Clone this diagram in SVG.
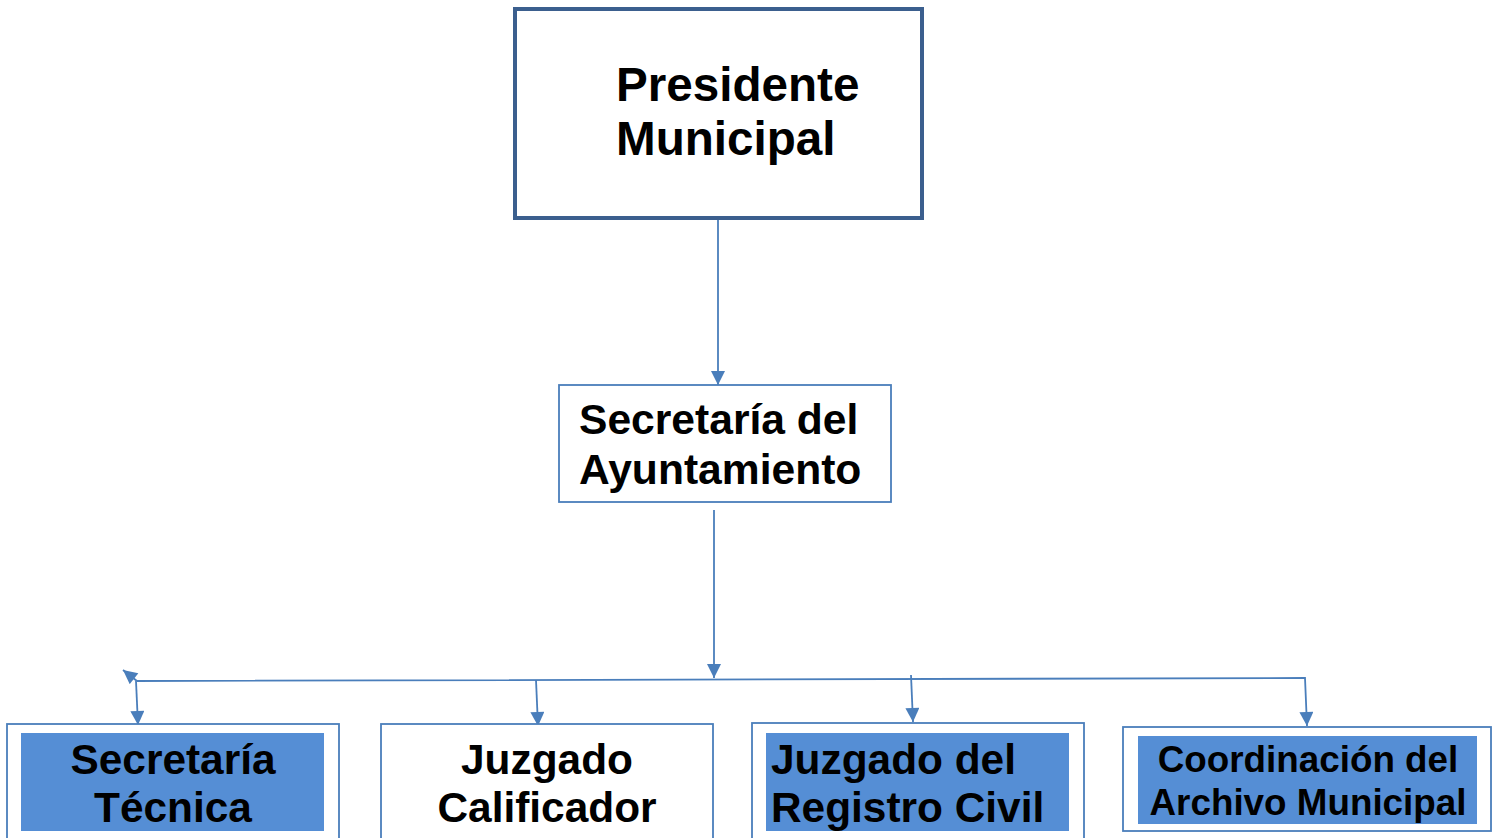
<svg xmlns="http://www.w3.org/2000/svg" width="1500" height="838" viewBox="0 0 1500 838">
<style>
.box{fill:#fff;stroke:#4a7ebb;stroke-width:1.8}
.fill{fill:#558ed5}
.t{font-family:"Liberation Sans",Arial,sans-serif;font-weight:bold;fill:#000}
.c{fill:none;stroke:#4a7ebb;stroke-width:1.8}
</style>
<defs>
<marker id="ah2" viewBox="0 0 10 10" refX="10" refY="5" markerWidth="15" markerHeight="14" markerUnits="userSpaceOnUse" orient="auto">
<path d="M0,0 L10,5 L0,10 z" fill="#4a7ebb"/>
</marker>
</defs>
<rect width="1500" height="838" fill="#fff"/>
<g id="connectors">
<line class="c" x1="718" y1="219" x2="718" y2="385" marker-end="url(#ah2)"/>
<line class="c" x1="714" y1="510" x2="714" y2="678" marker-end="url(#ah2)"/>
<polyline class="c" points="137,681 1305,678 1307,726" marker-end="url(#ah2)"/>
<line class="c" x1="137" y1="681" x2="123" y2="670" marker-end="url(#ah2)"/>
<line class="c" x1="136" y1="681" x2="138" y2="725" marker-end="url(#ah2)"/>
<line class="c" x1="536" y1="680" x2="538" y2="726" marker-end="url(#ah2)"/>
<line class="c" x1="911" y1="675" x2="913" y2="722" marker-end="url(#ah2)"/>
</g>
<g id="presidente">
<rect x="515" y="9" width="407" height="209" fill="#fff" stroke="#3b5f8e" stroke-width="4"/>
<text class="t" x="616" y="101" font-size="47.6">Presidente</text>
<text class="t" x="616" y="155" font-size="47.6">Municipal</text>
</g>
<g id="secretaria-ayuntamiento">
<rect class="box" x="559" y="385" width="332" height="117"/>
<text class="t" x="579" y="434" font-size="42.6">Secretaría del</text>
<text class="t" x="579" y="484" font-size="42.6">Ayuntamiento</text>
</g>
<g id="secretaria-tecnica">
<rect class="box" x="7" y="724" width="332" height="130"/>
<rect class="fill" x="21" y="733" width="303" height="98"/>
<text class="t" x="173" y="774" font-size="42.4" text-anchor="middle">Secretaría</text>
<text class="t" x="173" y="822" font-size="42.4" text-anchor="middle">Técnica</text>
</g>
<g id="juzgado-calificador">
<rect class="box" x="381" y="724" width="332" height="130"/>
<text class="t" x="547" y="774" font-size="42.4" text-anchor="middle">Juzgado</text>
<text class="t" x="547" y="822" font-size="42.4" text-anchor="middle">Calificador</text>
</g>
<g id="registro-civil">
<rect class="box" x="752" y="723" width="332" height="130"/>
<rect class="fill" x="766" y="733" width="303" height="98"/>
<text class="t" x="771" y="774" font-size="42.4">Juzgado del</text>
<text class="t" x="771" y="822" font-size="42.4">Registro Civil</text>
</g>
<g id="archivo-municipal">
<rect class="box" x="1123" y="727" width="368" height="104"/>
<rect class="fill" x="1138" y="736" width="339" height="88"/>
<text class="t" x="1308" y="772" font-size="36.8" text-anchor="middle">Coordinación del</text>
<text class="t" x="1308" y="815" font-size="36.8" text-anchor="middle">Archivo Municipal</text>
</g>
</svg>
